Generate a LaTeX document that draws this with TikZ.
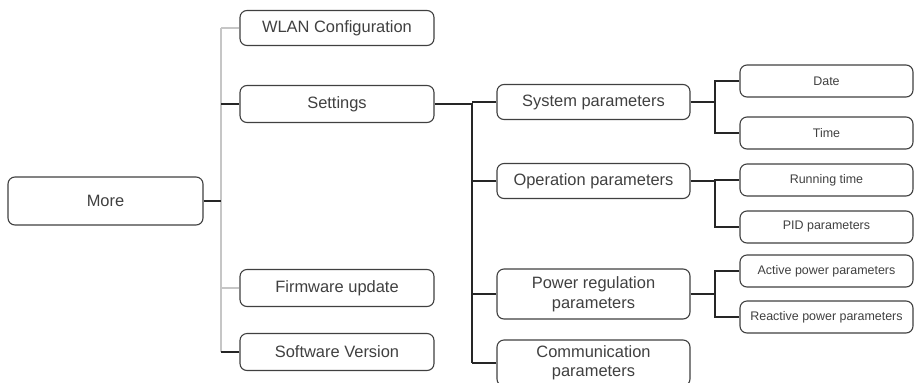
\documentclass[tikz,border=0pt]{standalone}
\usepackage{fontspec}
\setmainfont{Liberation Sans}
\usetikzlibrary{positioning}

\begin{document}
\begin{tikzpicture}[x=1bp,y=-1bp]
  \tikzset{
    menu/.style={rectangle,draw=black!75,line width=1.1bp,rounded corners=7bp,fill=white,
                 minimum width=194bp,minimum height=37bp,inner sep=2bp,align=center,
                 text=black!75,font=\fontsize{16.5}{20}\selectfont},
    param/.style={menu,minimum width=193bp,minimum height=35bp},
    leaf/.style={menu,minimum width=173bp,minimum height=32bp,font=\fontsize{12.5}{15}\selectfont},
    link/.style={black!85,line width=1.1bp}, trunk/.style={gray!45,line width=1.4bp}}
  \useasboundingbox (0,0) rectangle (915,382);
  % root and first level
  \node[menu,minimum width=195bp,minimum height=48bp] (more) at (105.5,201){More};
  \node[menu,minimum height=35bp] (wlan) at (337,28){WLAN Configuration};
  \node[menu] (settings) at (337,104){Settings};
  \node[menu] (firmware) at (337,288){Firmware update};
  \node[menu] (software) at (337,352){Software Version};
  \coordinate (t1) at (221,0);
  \draw[trunk] (wlan.west -| t1) -- (software.west -| t1);
  \draw[trunk] (wlan.west) -- (wlan.west -| t1);
  \draw[trunk] (firmware.west) -- (firmware.west -| t1);
  \draw[link] (more.east) -- (more.east -| t1);
  \draw[link] (settings.west) -- (settings.west -| t1);
  \draw[link] (software.west) -- (software.west -| t1);
  % settings
  \node[param] (system) at (593.5,102){System parameters};
  \node[param] (operation) at (593.5,181){Operation parameters};
  \node[param,minimum height=50bp] (power) at (593.5,294){Power regulation\\parameters};
  \node[param,minimum height=46bp,font=\fontsize{16.5}{19}\selectfont] (comm) at (593.5,363){Communication\\parameters};
  \coordinate (t2) at (472,0);
  \draw[link] (settings.east) -- (settings.east -| t2) -- (comm.west -| t2);
  \foreach \n in {system,operation,power,comm}
    \draw[link] (\n.west) -- (\n.west -| t2);
  % parameters
  \node[leaf] (date) at (826.5,81){Date};
  \node[leaf] (time) at (826.5,133){Time};
  \node[leaf] (running) at (826.5,180){Running time};
  \node[leaf] (pid) at (826.5,227){PID parameters};
  \node[leaf] (active) at (826.5,271){Active power parameters};
  \node[leaf] (reactive) at (826.5,317){Reactive power parameters};
  \coordinate (t3) at (715,0);
  \foreach \p/\a/\b in {system/date/time,operation/running/pid,power/active/reactive}{
    \draw[link] (\p.east) -- (\p.east -| t3);
    \draw[link] (\a.west) -- (\a.west -| t3) -- (\b.west -| t3) -- (\b.west);
  }
\end{tikzpicture}
\end{document}
